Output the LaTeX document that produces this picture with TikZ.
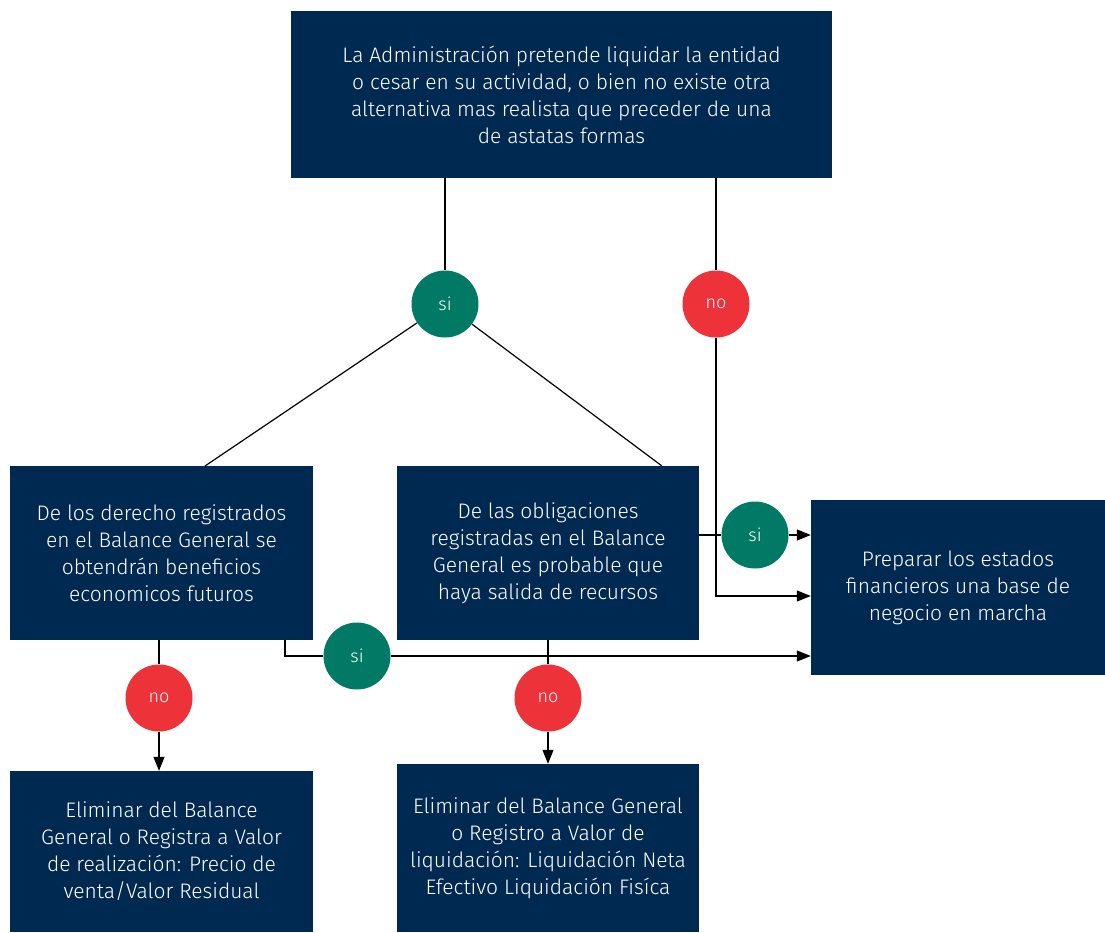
\documentclass[tikz,border=0pt]{standalone}
\usepackage{fontspec}
\setmainfont{Fira Sans}[UprightFont=* Light]
\usetikzlibrary{arrows.meta}
\definecolor{navy}{RGB}{0,41,82}
\definecolor{sigreen}{RGB}{0,122,100}
\definecolor{nored}{RGB}{238,50,57}
\tikzset{
  box/.style={fill=navy, text=white, align=center, inner sep=0pt,
    font=\fontsize{21}{27}\selectfont},
  yes/.style={circle, fill=sigreen, text=white, minimum size=67pt, inner sep=0pt,
    font=\fontsize{18}{20}\selectfont},
  nope/.style={circle, fill=nored, text=white, minimum size=67pt, inner sep=0pt,
    font=\fontsize{18}{20}\selectfont},
  conn/.style={line width=1.2pt, black},
  arr/.style={conn, -{Triangle[length=14pt,width=11pt]}},
}
\begin{document}
\begin{tikzpicture}[x=1pt,y=-1pt]
\useasboundingbox (0,0) rectangle (1105,932);
% boxes
\node[box, minimum width=541pt, minimum height=167pt] (top) at (561.5,94.5)
  {La Administración pretende liquidar la entidad\\o cesar en su actividad, o bien no existe otra\\alternativa mas realista que preceder de una\\de astatas formas};
\node[box, minimum width=303pt, minimum height=174pt] (lm) at (161.5,553)
  {De los derecho registrados\\en el Balance General se\\obtendrán beneficios\\economicos futuros};
\node[box, minimum width=302pt, minimum height=174pt] (cm) at (548,553)
  {De las obligaciones\\registradas en el Balance\\General es probable que\\haya salida de recursos};
\node[box, minimum width=294pt, minimum height=175pt] (rt) at (958,587.5)
  {Preparar los estados\\financieros una base de\\negocio en marcha};
\node[box, minimum width=303pt, minimum height=161pt] (bl) at (161.5,851.5)
  {Eliminar del Balance\\General o Registra a Valor\\de realización: Precio de\\venta/Valor Residual};
\node[box, minimum width=302pt, minimum height=168pt] (bc) at (548,848)
  {Eliminar del Balance General\\o Registro a Valor de\\liquidación: Liquidación Neta\\Efectivo Liquidación Fisíca};
% decision circles
\node[yes] (s1) at (445,304) {si};
\node[nope] (n1) at (716,304) {no};
\node[yes] (s2) at (755,535) {si};
\node[yes] (s3) at (357,656) {si};
\node[nope] (n2) at (159,698) {no};
\node[nope] (n3) at (548,698) {no};
% helper coordinates
\coordinate (lmtop) at (205,466);
\coordinate (cmtop) at (662,466);
\coordinate (bend1) at (716,596);
\coordinate (bend2) at (285,656);
% connectors
\draw[conn] (top.south -| s1) -- (s1);
\draw[conn] (s1) -- (lmtop);
\draw[conn] (s1) -- (cmtop);
\draw[conn] (top.south -| n1) -- (n1);
\draw[arr] (n1) -- (bend1) -- (bend1 -| rt.west);
\draw[conn] (cm.east |- s2) -- (s2);
\draw[arr] (s2) -- (s2 -| rt.west);
\draw[conn] (lm.south -| bend2) -- (bend2) -- (s3);
\draw[arr] (s3) -- (s3 -| rt.west);
\draw[conn] (lm.south -| n2) -- (n2);
\draw[arr] (n2) -- (bl.north -| n2);
\draw[conn] (cm.south -| n3) -- (n3);
\draw[arr] (n3) -- (bc.north -| n3);
\end{tikzpicture}
\end{document}
